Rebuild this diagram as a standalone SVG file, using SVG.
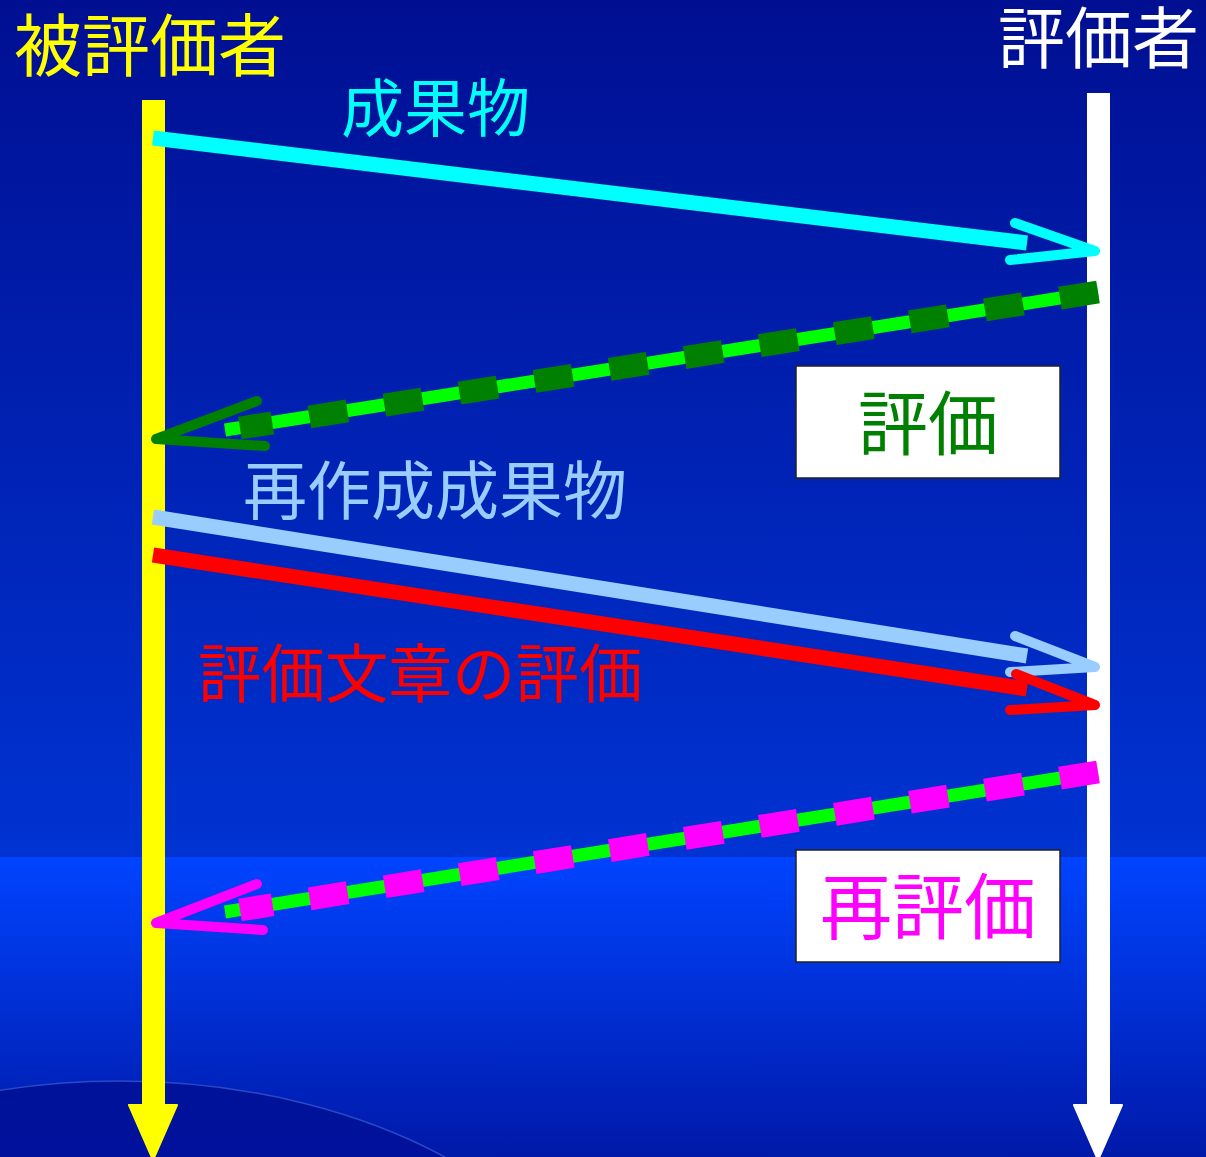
<svg xmlns="http://www.w3.org/2000/svg" width="1206" height="1157" viewBox="0 0 1206 1157">
<defs>
<linearGradient id="bgTop" x1="0" y1="0" x2="0" y2="1">
<stop offset="0" stop-color="#000f92"/>
<stop offset="1" stop-color="#0033d2"/>
</linearGradient>
<linearGradient id="bgBot" x1="0" y1="0" x2="0" y2="1">
<stop offset="0" stop-color="#0044ff"/>
<stop offset="1" stop-color="#0019a8"/>
</linearGradient>
<linearGradient id="hill" x1="0" y1="0" x2="0" y2="1">
<stop offset="0" stop-color="#00129a"/>
<stop offset="1" stop-color="#0808a0"/>
</linearGradient>
<style>
.t{font-family:"Noto Sans CJK JP","Noto Sans CJK SC",sans-serif;}
.shaft{fill:none;stroke-linecap:butt;}
.chev{fill:none;stroke-width:10;stroke-linecap:round;stroke-linejoin:round;}
.box{fill:#ffffff;stroke:#222222;stroke-width:1.5;}
</style>
</defs>
<g id="background">
<rect x="0" y="0" width="1206" height="857" fill="url(#bgTop)"/>
<rect x="0" y="857" width="1206" height="300" fill="url(#bgBot)"/>
<ellipse cx="120" cy="1401" rx="502" ry="320" fill="url(#hill)" stroke="#2a48c8" stroke-width="1.5"/>
</g>
<g id="lifeline-left">
<rect x="142" y="100" width="23" height="1010" fill="#ffff00"/>
<polygon points="129,1105 177,1105 153,1160" fill="#ffff00" stroke="#ffff00" stroke-width="2" stroke-linejoin="round"/>
<text class="t" x="14" y="71" font-size="68" fill="#ffff00">被評価者</text>
</g>
<g id="lifeline-right">
<rect x="1087" y="93" width="23" height="1017" fill="#ffffff"/>
<polygon points="1074,1105 1122,1105 1098,1160" fill="#ffffff" stroke="#ffffff" stroke-width="2" stroke-linejoin="round"/>
<text class="t" x="998" y="63" font-size="67" fill="#ffffff">評価者</text>
</g>
<g id="connectors">
<g id="msg1">
<line class="shaft" x1="153" y1="138" x2="1027" y2="243" stroke="#00ffff" stroke-width="15"/>
<polyline class="chev" points="1015,223 1095,251 1010,260" stroke="#00ffff"/>
<text class="t" x="341" y="131" font-size="63" fill="#00ffff">成果物</text>
</g>
<g id="msg2">
<line class="shaft" x1="1098" y1="292" x2="225" y2="430" stroke="#00ff00" stroke-width="13"/>
<line class="shaft" x1="1098" y1="292" x2="240" y2="428" stroke="#008000" stroke-width="23" stroke-dasharray="38.5 37.5"/>
<polyline class="chev" points="257,401 156,439 265,446" stroke="#008000"/>
</g>
<g id="msg3">
<line class="shaft" x1="153" y1="517" x2="1027" y2="656" stroke="#99ccff" stroke-width="15"/>
<polyline class="chev" points="1015,636 1095,667 1010,672" stroke="#99ccff"/>
<text class="t" x="243" y="514" font-size="64" fill="#99ccff">再作成成果物</text>
</g>
<g id="msg4">
<line class="shaft" x1="153" y1="555" x2="1027" y2="689" stroke="#ff0000" stroke-width="15"/>
<polyline class="chev" points="1016,674 1095,705 1010,710" stroke="#ff0000"/>
<text class="t" x="198" y="697" font-size="63.5" fill="#ff0000">評価文章の評価</text>
</g>
<g id="msg5">
<line class="shaft" x1="1098" y1="772" x2="225" y2="912" stroke="#00ff00" stroke-width="13"/>
<line class="shaft" x1="1098" y1="772" x2="240" y2="910" stroke="#ff00ff" stroke-width="23" stroke-dasharray="38.5 37.5"/>
<polyline class="chev" points="257,884 156,923 263,930" stroke="#ff00ff"/>
</g>
</g>
<g id="box-hyoka">
<rect class="box" x="796" y="366" width="264" height="112"/>
<text class="t" x="928" y="450" font-size="70" fill="#008000" text-anchor="middle">評価</text>
</g>
<g id="box-saihyoka">
<rect class="box" x="796" y="850" width="264" height="112"/>
<text class="t" x="928" y="933" font-size="72" fill="#ff00ff" text-anchor="middle">再評価</text>
</g>
</svg>
